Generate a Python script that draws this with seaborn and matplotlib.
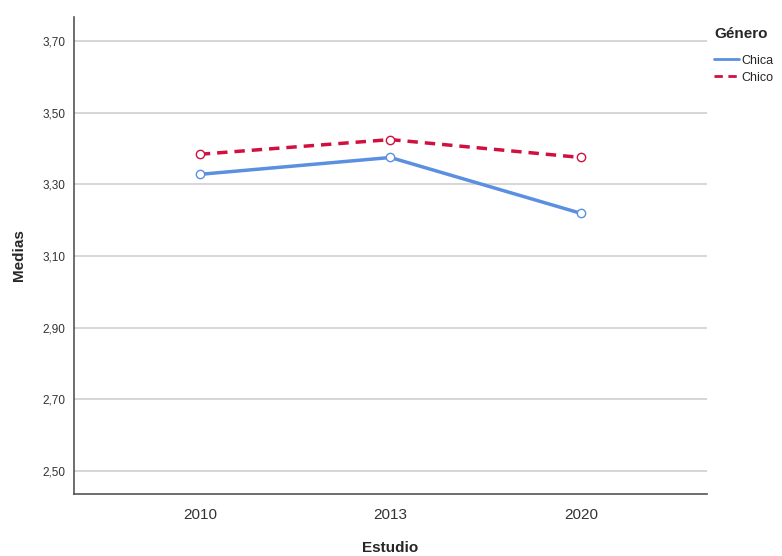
import pandas as pd
import matplotlib.pyplot as plt
import seaborn as sns
from matplotlib.lines import Line2D
from matplotlib.ticker import FuncFormatter

# Data
years = ['2010', '2013', '2020']
chica = [3.328, 3.375, 3.219]
chico = [3.384, 3.425, 3.375]
genders = ['Chica', 'Chico']
y_ticks = [2.50, 2.70, 2.90, 3.10, 3.30, 3.50, 3.70]

df = pd.DataFrame({
    'Estudio': years * 2,
    'Medias': chica + chico,
    'Género': ['Chica'] * len(years) + ['Chico'] * len(years),
})

sns.set_style('white')
plt.rcParams['font.family'] = ['Liberation Sans', 'DejaVu Sans']

palette = {'Chica': '#5b8fe0', 'Chico': '#d0103f'}
dashes = {'Chica': '', 'Chico': (3, 2)}

fig = plt.figure(figsize=(7.82, 5.56), dpi=100)
ax = fig.add_axes([0.0946, 0.1115, 0.8094, 0.8579])

sns.lineplot(data=df, x='Estudio', y='Medias', hue='Género', style='Género',
             palette=palette, dashes=dashes, markers={'Chica': 'o', 'Chico': 'o'},
             markersize=6, linewidth=2.5, sort=False, legend=False, ax=ax)

# open circle markers in the line colour
for line in ax.lines:
    line.set_markerfacecolor('white')
    line.set_markeredgecolor(line.get_color())
    line.set_markeredgewidth(1.0)

ax.set_xlim(-0.66, 2.66)
ax.set_ylim(2.436, 3.767)
ax.set_yticks(y_ticks)
ax.yaxis.set_major_formatter(FuncFormatter(lambda v, p: f'{v:.2f}'.replace('.', ',')))
ax.grid(axis='y', color='#d0d0d0', linewidth=1.2)
ax.set_axisbelow(True)
for s in ['top', 'right']:
    ax.spines[s].set_visible(False)
for s in ['left', 'bottom']:
    ax.spines[s].set_color('#555555')
    ax.spines[s].set_linewidth(1.2)

ax.tick_params(axis='y', labelsize=8.5, colors='#333333', length=0, pad=6)
ax.tick_params(axis='x', labelsize=11, colors='#333333', length=0, pad=10)
ax.set_xlabel('Estudio', fontsize=11, fontweight='bold', labelpad=14)
ax.set_ylabel('Medias', fontsize=11, fontweight='bold', labelpad=12)

handles = [Line2D([0], [0], color=palette[g], linewidth=2,
                  linestyle='-' if g == 'Chica' else (0, (3, 2))) for g in genders]
leg = fig.legend(handles, genders, title='Género', loc='upper left',
                 bbox_to_anchor=(0.913, 0.952), frameon=False, fontsize=9,
                 handlelength=2.0, handletextpad=0.2, labelspacing=0.4,
                 borderaxespad=0, borderpad=0)
leg.get_title().set_fontweight('bold')
leg.get_title().set_fontsize(11)
leg._legend_box.align = 'left'
leg._legend_box.sep = 10

fig.savefig('out.png', dpi=100)
